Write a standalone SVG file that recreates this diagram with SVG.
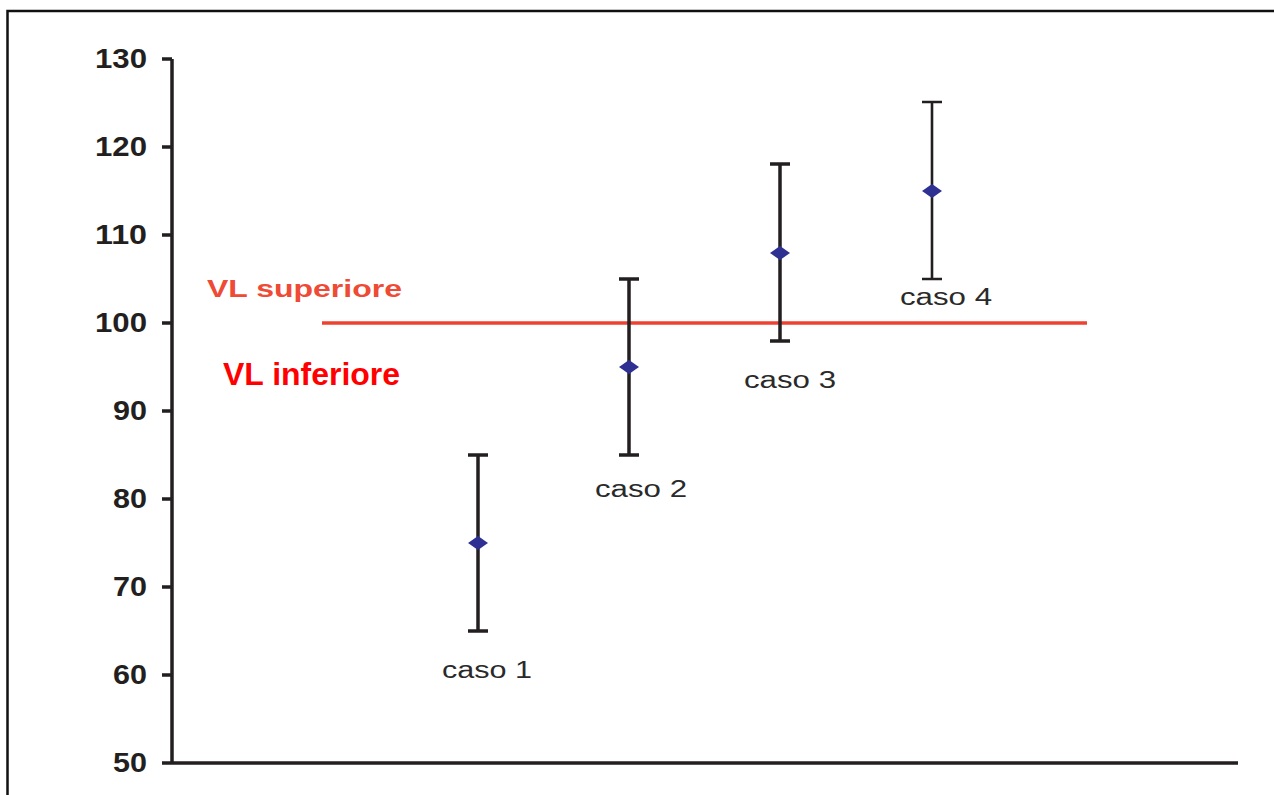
<svg xmlns="http://www.w3.org/2000/svg" width="1274" height="795" viewBox="0 0 1274 795">
<style>
.frame{stroke:#111;stroke-width:2.5;fill:none}
.axis{stroke:#231f20;stroke-width:3.5;fill:none}
.bar{stroke:#231f20;stroke-width:3.5;fill:none}
.bar4{stroke:#231f20;stroke-width:2.6;fill:none}
.mk{fill:#2e3192}
.tick{font-family:"Liberation Sans",Arial,sans-serif;font-weight:bold;font-size:28px;fill:#231f20;text-anchor:end}
.caso{font-family:"Liberation Sans",Arial,sans-serif;font-size:23px;fill:#2a2a2a}
.lim{stroke:#ee4130;stroke-width:3.5}
</style>
<rect width="1274" height="795" fill="#fff"/>
<path class="frame" d="M7.5,795 V11 H1274"/>
<g id="axes">
<path class="axis" d="M172,59 V763 M162,763 H1238 M162,59 H172 M162,147 H172 M162,235 H172 M162,323 H172 M162,411 H172 M162,499 H172 M162,587 H172 M162,675 H172"/>
<text class="tick" x="147" y="68" textLength="52" lengthAdjust="spacingAndGlyphs">130</text>
<text class="tick" x="147" y="156" textLength="52" lengthAdjust="spacingAndGlyphs">120</text>
<text class="tick" x="147" y="244" textLength="52" lengthAdjust="spacingAndGlyphs">110</text>
<text class="tick" x="147" y="332" textLength="52" lengthAdjust="spacingAndGlyphs">100</text>
<text class="tick" x="147" y="420" textLength="34" lengthAdjust="spacingAndGlyphs">90</text>
<text class="tick" x="147" y="508" textLength="34" lengthAdjust="spacingAndGlyphs">80</text>
<text class="tick" x="147" y="596" textLength="34" lengthAdjust="spacingAndGlyphs">70</text>
<text class="tick" x="147" y="684" textLength="34" lengthAdjust="spacingAndGlyphs">60</text>
<text class="tick" x="147" y="772" textLength="34" lengthAdjust="spacingAndGlyphs">50</text>
</g>
<g id="limit">
<line class="lim" x1="322" y1="323" x2="1087" y2="323"/>
<text x="207" y="297" textLength="195" lengthAdjust="spacingAndGlyphs" font-family="Liberation Sans, Arial, sans-serif" font-weight="bold" font-size="23" fill="#ee4a35">VL superiore</text>
<text x="223" y="385" textLength="177" lengthAdjust="spacingAndGlyphs" font-family="Liberation Sans, Arial, sans-serif" font-weight="bold" font-size="31" fill="#ff0000">VL inferiore</text>
</g>
<g id="caso1">
<path class="bar" d="M478,455 V631 M468,455 H488 M468,631 H488"/>
<path class="mk" d="M478,536 L488,543 L478,550 L468,543 Z"/>
<text class="caso" x="442" y="678" textLength="90" lengthAdjust="spacingAndGlyphs">caso 1</text>
</g>
<g id="caso2">
<path class="bar" d="M629,279 V455 M619,279 H639 M619,455 H639"/>
<path class="mk" d="M629,360 L639,367 L629,374 L619,367 Z"/>
<text class="caso" x="595" y="497" textLength="92" lengthAdjust="spacingAndGlyphs">caso 2</text>
</g>
<g id="caso3">
<path class="bar" d="M780,164 V341 M770,164 H790 M770,341 H790"/>
<path class="mk" d="M780,246 L790,253 L780,260 L770,253 Z"/>
<text class="caso" x="744" y="388" textLength="92" lengthAdjust="spacingAndGlyphs">caso 3</text>
</g>
<g id="caso4">
<path class="bar4" d="M932,102 V279 M922,102 H942 M922,279 H942"/>
<path class="mk" d="M932,184 L942,191 L932,198 L922,191 Z"/>
<text class="caso" x="900" y="305" textLength="92" lengthAdjust="spacingAndGlyphs">caso 4</text>
</g>
</svg>
